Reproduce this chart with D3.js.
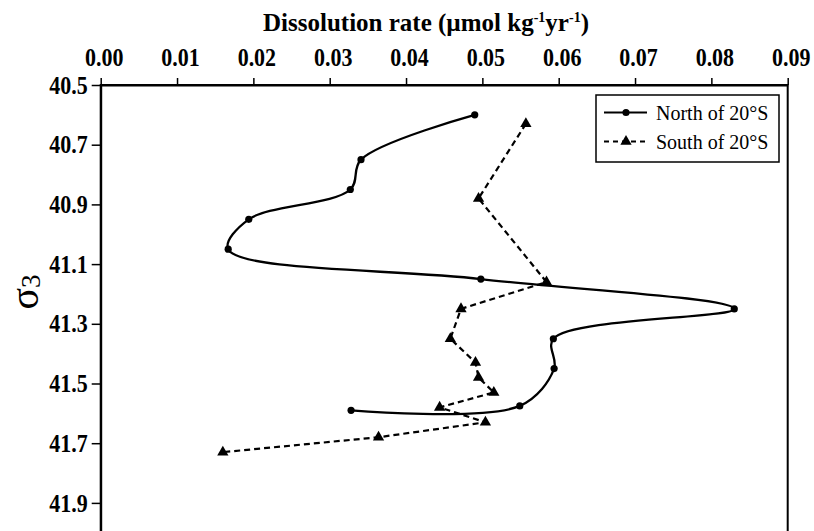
<!DOCTYPE html>
<html>
<head>
<meta charset="utf-8">
<script src="https://cdn.jsdelivr.net/npm/d3@7"></script>
<style>
  html, body { margin: 0; padding: 0; background: #fff; }
  svg { display: block; }
  text { font-family: "Liberation Serif", "Times New Roman", serif; fill: #000; }
</style>
</head>
<body>
<svg id="chart" width="814" height="531"></svg>
<script>
// Dissolution rate profiles against potential density sigma-3
const northSigma = [40.60, 40.75, 40.85, 40.95, 41.05, 41.15, 41.25, 41.35, 41.45, 41.575, 41.59];
const northRate  = [0.0490, 0.0341, 0.0327, 0.0194, 0.0167, 0.0498, 0.0830, 0.0593, 0.0594, 0.0549, 0.0328];

const southSigma = [40.63, 40.88, 41.16, 41.25, 41.35, 41.43, 41.48, 41.53, 41.58, 41.63, 41.68, 41.73];
const southRate  = [0.0557, 0.0495, 0.0584, 0.0472, 0.0458, 0.0491, 0.0495, 0.0515, 0.0444, 0.0504, 0.0364, 0.0160];

const rateTicks  = [0, 0.01, 0.02, 0.03, 0.04, 0.05, 0.06, 0.07, 0.08, 0.09];
const sigmaTicks = [40.5, 40.7, 40.9, 41.1, 41.3, 41.5, 41.7, 41.9];

const legendLabels = ["North of 20°S", "South of 20°S"];

const svg = d3.select("#chart");

const plotLeft = 100.7, plotRight = 787.7, plotTop = 85;
const x = d3.scaleLinear().domain([0, 0.09]).range([plotLeft, plotRight]);
const y = d3.scaleLinear().domain([40.5, 42.1]).range([plotTop, plotTop + 1.6 * 298.5]);

const north = northSigma.map((s, i) => ({ s, r: northRate[i] }));
const south = southSigma.map((s, i) => ({ s, r: southRate[i] }));

// frame: right edge and (off-view) bottom edge
svg.append("rect")
  .attr("x", plotLeft).attr("y", plotTop)
  .attr("width", plotRight - plotLeft).attr("height", y(42.1) - plotTop)
  .attr("fill", "none").attr("stroke", "#000").attr("stroke-width", 2);

// top axis, tall bold numerals
const xAxis = svg.append("g")
  .attr("transform", `translate(0,${plotTop})`)
  .call(d3.axisTop(x).tickValues(rateTicks).tickFormat(d3.format(".2f"))
        .tickSize(7).tickSizeOuter(0));
xAxis.select(".domain").attr("stroke-width", 2);
xAxis.selectAll(".tick line").attr("stroke-width", 1.5);
xAxis.selectAll(".tick text")
  .attr("font-family", "Liberation Serif, serif")
  .attr("font-weight", "bold")
  .attr("font-size", 22)
  .attr("y", 0).attr("dy", 0)
  .attr("transform", "translate(3,-19) scale(1,1.12)");

// left axis
const yAxis = svg.append("g")
  .attr("transform", `translate(${plotLeft},0)`)
  .call(d3.axisLeft(y).tickValues(sigmaTicks).tickFormat(d3.format(".1f"))
        .tickSize(9).tickSizeOuter(0));
yAxis.select(".domain").attr("stroke-width", 2);
yAxis.selectAll(".tick line").attr("stroke-width", 1.5);
yAxis.selectAll(".tick text")
  .attr("font-family", "Liberation Serif, serif")
  .attr("font-weight", "bold")
  .attr("font-size", 22)
  .attr("x", 0).attr("dy", "0.33em")
  .attr("transform", "translate(-13,0) scale(1,1.12)");

// axis titles
const title = svg.append("text")
  .attr("x", 426).attr("y", 31)
  .attr("text-anchor", "middle")
  .attr("font-weight", "bold")
  .attr("font-size", 25);
title.append("tspan").text("Dissolution rate (µmol kg");
title.append("tspan").attr("font-size", 14).attr("dy", -9).text("-1");
title.append("tspan").attr("dy", 9).text("yr");
title.append("tspan").attr("font-size", 14).attr("dy", -9).text("-1");
title.append("tspan").attr("dy", 9).text(")");

const ylab = svg.append("text")
  .attr("transform", "translate(38,292) rotate(-90)")
  .attr("text-anchor", "middle");
ylab.append("tspan").attr("font-size", 40).text("σ");
ylab.append("tspan").attr("font-size", 27).attr("dy", 2).text("3");

// North: smoothed solid line with dots
const northLine = d3.line().x(d => x(d.r)).y(d => y(d.s)).curve(d3.curveCatmullRom);
svg.append("path").datum(north)
  .attr("d", northLine)
  .attr("fill", "none").attr("stroke", "#000").attr("stroke-width", 2.3);
svg.selectAll(".ndot").data(north).join("circle")
  .attr("class", "ndot")
  .attr("cx", d => x(d.r)).attr("cy", d => y(d.s)).attr("r", 3.6).attr("fill", "#000");

// South: dashed straight segments with triangles
const southLine = d3.line().x(d => x(d.r)).y(d => y(d.s));
svg.append("path").datum(south)
  .attr("d", southLine)
  .attr("fill", "none").attr("stroke", "#000").attr("stroke-width", 2.2)
  .attr("stroke-dasharray", "6,4");
const tri = d3.symbol().type(d3.symbolTriangle).size(55);
svg.selectAll(".stri").data(south).join("path")
  .attr("class", "stri")
  .attr("transform", d => `translate(${x(d.r)},${y(d.s)})`)
  .attr("d", tri).attr("fill", "#000");

// legend
const lg = svg.append("g");
lg.append("rect").attr("x", 596).attr("y", 95).attr("width", 183).attr("height", 67)
  .attr("fill", "#fff").attr("stroke", "#000").attr("stroke-width", 1.5);
const rows = [112.5, 141.5];
lg.append("line").attr("x1", 604).attr("x2", 647).attr("y1", rows[0]).attr("y2", rows[0])
  .attr("stroke", "#000").attr("stroke-width", 1.8);
lg.append("circle").attr("cx", 626).attr("cy", rows[0]).attr("r", 3.6).attr("fill", "#000");
lg.append("line").attr("x1", 604).attr("x2", 647).attr("y1", rows[1]).attr("y2", rows[1])
  .attr("stroke", "#000").attr("stroke-width", 1.8).attr("stroke-dasharray", "5,4");
lg.append("path").attr("transform", `translate(626,${rows[1]})`).attr("d", tri).attr("fill", "#000");
legendLabels.forEach((t, i) => {
  lg.append("text").attr("x", 656).attr("y", rows[i]).attr("dy", "0.35em")
    .attr("font-size", 20).text(t);
});
</script>
</body>
</html>
